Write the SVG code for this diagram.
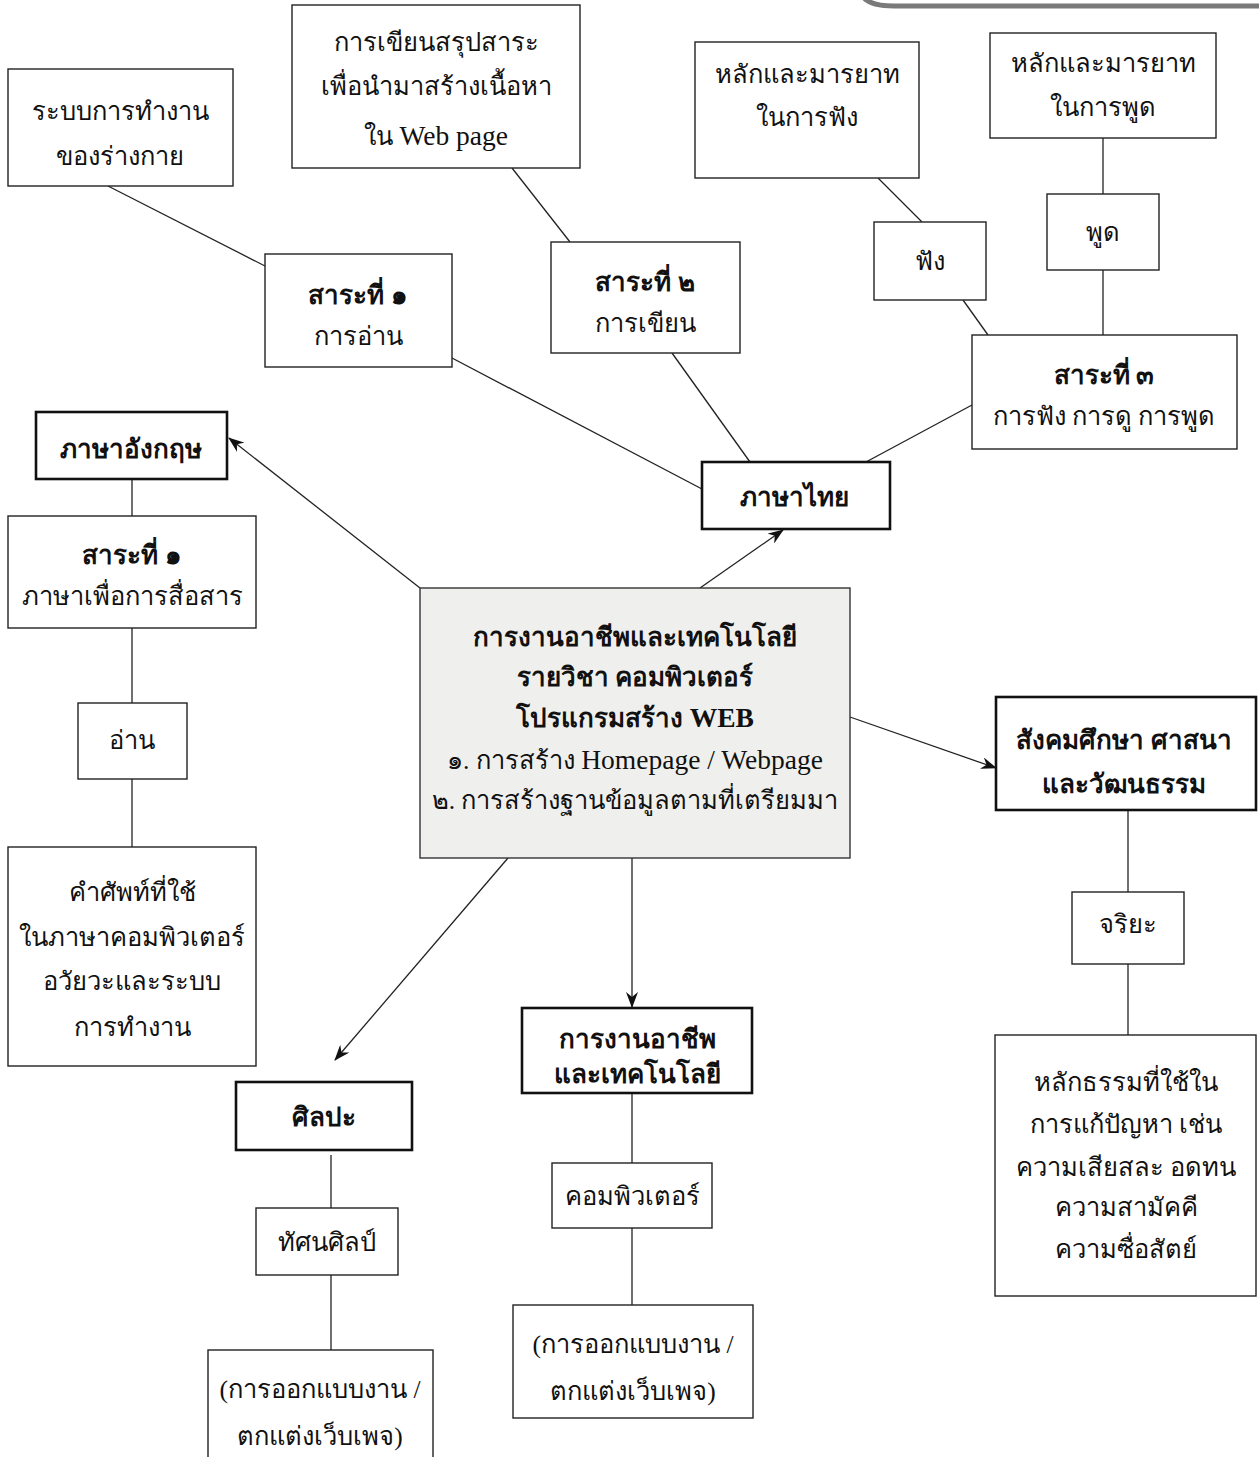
<svg xmlns="http://www.w3.org/2000/svg" width="1259" height="1457" viewBox="0 0 1259 1457">
<defs>
<style>
.b{fill:#fff;stroke:#222;stroke-width:1.4}
.t{fill:#fff;stroke:#111;stroke-width:2.6}
.c{fill:#eff0ee;stroke:#333;stroke-width:1.4}
text{font-family:"Liberation Serif","Noto Sans",serif;font-size:25.5px;fill:#111;text-anchor:middle}
.bd{font-weight:bold;font-size:26px}
.lt{font-size:27.5px}
.ln{stroke:#222;stroke-width:1.3;fill:none}
</style>
<marker id="ah" viewBox="0 0 16 12" refX="15" refY="6" markerWidth="16" markerHeight="12" markerUnits="userSpaceOnUse" orient="auto">
<path d="M0,0 L16,6 L0,12 L5,6 z" fill="#111"/>
</marker>
</defs>
<rect width="1259" height="1457" fill="#fff"/>
<path d="M864 -2 Q872 6 894 6 L1259 6" fill="none" stroke="#7a7a7a" stroke-width="5"/>

<g id="connectors">
<line class="ln" x1="108" y1="186" x2="265" y2="266"/>
<line class="ln" x1="512" y1="168" x2="570" y2="242"/>
<line class="ln" x1="452" y1="358" x2="702" y2="489"/>
<line class="ln" x1="672" y1="353" x2="750" y2="462"/>
<line class="ln" x1="972" y1="405" x2="866" y2="462"/>
<line class="ln" x1="878" y1="178" x2="922" y2="222"/>
<line class="ln" x1="963" y1="300" x2="988" y2="335"/>
<line class="ln" x1="1103" y1="138" x2="1103" y2="194"/>
<line class="ln" x1="1103" y1="270" x2="1103" y2="335"/>
<line class="ln" x1="132" y1="479" x2="132" y2="516"/>
<line class="ln" x1="132" y1="628" x2="132" y2="703"/>
<line class="ln" x1="132" y1="779" x2="132" y2="847"/>
<line class="ln" x1="1128" y1="810" x2="1128" y2="892"/>
<line class="ln" x1="1128" y1="964" x2="1128" y2="1035"/>
<line class="ln" x1="632" y1="1093" x2="632" y2="1163"/>
<line class="ln" x1="632" y1="1228" x2="632" y2="1305"/>
<line class="ln" x1="331" y1="1155" x2="331" y2="1208"/>
<line class="ln" x1="331" y1="1275" x2="331" y2="1350"/>
<line class="ln" x1="700" y1="588" x2="783" y2="530" marker-end="url(#ah)"/>
<line class="ln" x1="420" y1="588" x2="229" y2="438" marker-end="url(#ah)"/>
<line class="ln" x1="850" y1="717" x2="996" y2="768" marker-end="url(#ah)"/>
<line class="ln" x1="508" y1="858" x2="335" y2="1060" marker-end="url(#ah)"/>
<line class="ln" x1="632" y1="858" x2="632" y2="1007" marker-end="url(#ah)"/>
</g>

<g id="n-body">
<rect class="b" x="8" y="69" width="225" height="117"/>
<text x="120" y="120">ระบบการทำงาน</text>
<text x="120" y="165">ของร่างกาย</text>
</g>
<g id="n-writesum">
<rect class="b" x="292" y="5" width="288" height="163"/>
<text x="436" y="51">การเขียนสรุปสาระ</text>
<text x="436" y="95">เพื่อนำมาสร้างเนื้อหา</text>
<text x="436" y="145">ใน <tspan class="lt">Web page</tspan></text>
</g>
<g id="n-listenrule">
<rect class="b" x="695" y="42" width="224" height="136"/>
<text x="807" y="83">หลักและมารยาท</text>
<text x="807" y="126">ในการฟัง</text>
</g>
<g id="n-speakrule">
<rect class="b" x="990" y="33" width="226" height="105"/>
<text x="1103" y="72">หลักและมารยาท</text>
<text x="1103" y="116">ในการพูด</text>
</g>
<g id="n-sara1th">
<rect class="b" x="265" y="254" width="187" height="113"/>
<text class="bd" x="358" y="304">สาระที่ ๑</text>
<text x="358" y="345">การอ่าน</text>
</g>
<g id="n-sara2th">
<rect class="b" x="551" y="242" width="189" height="111"/>
<text class="bd" x="645" y="291">สาระที่ ๒</text>
<text x="645" y="332">การเขียน</text>
</g>
<g id="n-listen">
<rect class="b" x="874" y="222" width="112" height="78"/>
<text x="930" y="270">ฟัง</text>
</g>
<g id="n-speak">
<rect class="b" x="1047" y="194" width="112" height="76"/>
<text x="1103" y="241">พูด</text>
</g>
<g id="n-sara3th">
<rect class="b" x="972" y="335" width="265" height="114"/>
<text class="bd" x="1104" y="384">สาระที่ ๓</text>
<text x="1104" y="425">การฟัง การดู การพูด</text>
</g>
<g id="n-thai">
<rect class="t" x="702" y="462" width="188" height="67"/>
<text class="bd" x="794" y="506">ภาษาไทย</text>
</g>
<g id="n-english">
<rect class="t" x="36" y="412" width="191" height="67"/>
<text class="bd" x="131" y="458">ภาษาอังกฤษ</text>
</g>
<g id="n-sara1en">
<rect class="b" x="8" y="516" width="248" height="112"/>
<text class="bd" x="132" y="564">สาระที่ ๑</text>
<text x="132" y="605">ภาษาเพื่อการสื่อสาร</text>
</g>
<g id="n-read">
<rect class="b" x="78" y="703" width="109" height="76"/>
<text x="132" y="749">อ่าน</text>
</g>
<g id="n-vocab">
<rect class="b" x="8" y="847" width="248" height="219"/>
<text x="132" y="901">คำศัพท์ที่ใช้</text>
<text x="132" y="946">ในภาษาคอมพิวเตอร์</text>
<text x="132" y="990">อวัยวะและระบบ</text>
<text x="132" y="1036">การทำงาน</text>
</g>
<g id="n-center">
<rect class="c" x="420" y="588" width="430" height="270"/>
<text class="bd" x="635" y="646">การงานอาชีพและเทคโนโลยี</text>
<text class="bd" x="635" y="686">รายวิชา คอมพิวเตอร์</text>
<text class="bd" x="635" y="727">โปรแกรมสร้าง <tspan class="lt">WEB</tspan></text>
<text x="635" y="769">๑. การสร้าง <tspan class="lt">Homepage / Webpage</tspan></text>
<text x="635" y="809">๒. การสร้างฐานข้อมูลตามที่เตรียมมา</text>
</g>
<g id="n-social">
<rect class="t" x="996" y="697" width="260" height="113"/>
<text class="bd" x="1124" y="749">สังคมศึกษา ศาสนา</text>
<text class="bd" x="1124" y="793">และวัฒนธรรม</text>
</g>
<g id="n-ethics">
<rect class="b" x="1072" y="892" width="112" height="72"/>
<text x="1128" y="933">จริยะ</text>
</g>
<g id="n-dharma">
<rect class="b" x="995" y="1035" width="261" height="261"/>
<text x="1126" y="1091">หลักธรรมที่ใช้ใน</text>
<text x="1126" y="1133">การแก้ปัญหา เช่น</text>
<text x="1126" y="1176">ความเสียสละ อดทน</text>
<text x="1126" y="1216">ความสามัคคี</text>
<text x="1126" y="1258">ความซื่อสัตย์</text>
</g>
<g id="n-career">
<rect class="t" x="522" y="1008" width="230" height="85"/>
<text class="bd" x="637" y="1048">การงานอาชีพ</text>
<text class="bd" x="637" y="1083">และเทคโนโลยี</text>
</g>
<g id="n-computer">
<rect class="b" x="552" y="1163" width="160" height="65"/>
<text x="632" y="1205">คอมพิวเตอร์</text>
</g>
<g id="n-design2">
<rect class="b" x="513" y="1305" width="240" height="113"/>
<text x="633" y="1353">(การออกแบบงาน /</text>
<text x="633" y="1400">ตกแต่งเว็บเพจ)</text>
</g>
<g id="n-art">
<rect class="t" x="236" y="1082" width="176" height="68"/>
<text class="bd" x="324" y="1126">ศิลปะ</text>
</g>
<g id="n-visual">
<rect class="b" x="256" y="1208" width="142" height="67"/>
<text x="327" y="1251">ทัศนศิลป์</text>
</g>
<g id="n-design1">
<rect class="b" x="208" y="1350" width="225" height="120"/>
<text x="320" y="1398">(การออกแบบงาน /</text>
<text x="320" y="1445">ตกแต่งเว็บเพจ)</text>
</g>
</svg>
